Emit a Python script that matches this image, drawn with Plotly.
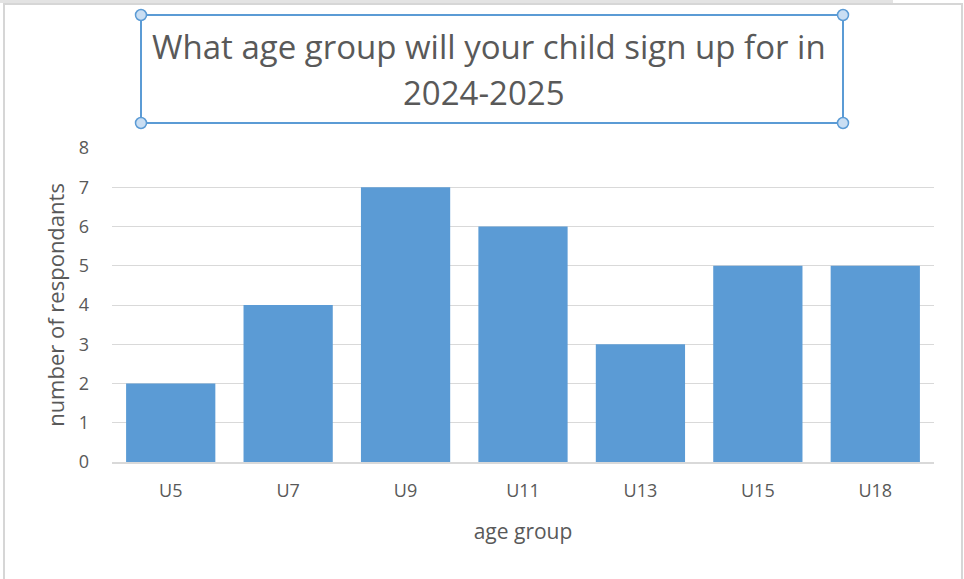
import plotly.graph_objects as go

categories = ["U5", "U7", "U9", "U11", "U13", "U15", "U18"]
respondents = [2, 4, 7, 6, 3, 5, 5]
title_lines = ["What age group will your child sign up for in", "2024-2025"]

W, H = 964, 579
L, R, T, B = 112, 934, 148, 462

def px(x):
    return (x - L) / (R - L)

def py(y):
    return (B - y) / (B - T)

GRAY = "#595959"
BLUE = "#5b9bd5"
FONT = "Open Sans"

fig = go.Figure(go.Bar(x=categories, y=respondents, marker=dict(color=BLUE, line=dict(width=0)),
                       width=0.76, hoverinfo="skip"))

shapes = []
# outer frame
shapes.append(dict(type="rect", xref="paper", yref="paper", x0=px(0), x1=px(893), y0=py(0), y1=py(3),
                   fillcolor="#e3e3e3", line=dict(width=0), layer="below"))
shapes.append(dict(type="rect", xref="paper", yref="paper", x0=px(4), x1=px(962), y0=py(4), y1=py(585),
                   fillcolor="rgba(0,0,0,0)", line=dict(color="#d6d6d6", width=2), layer="below"))
# title selection box
shapes.append(dict(type="rect", xref="paper", yref="paper", x0=px(141), x1=px(843), y0=py(15), y1=py(123),
                   line=dict(color=BLUE, width=2), fillcolor="rgba(0,0,0,0)"))
r = 5.5
for cx, cy in [(141, 15), (843, 15), (141, 123), (843, 123)]:
    shapes.append(dict(type="circle", xref="paper", yref="paper", x0=px(cx - r), x1=px(cx + r),
                       y0=py(cy - r), y1=py(cy + r), fillcolor="#c9def3", line=dict(color=BLUE, width=1.5)))

annotations = [
    dict(text=title_lines[0], xref="paper", yref="paper", x=px(489), y=py(47), showarrow=False,
         xanchor="center", yanchor="middle", font=dict(family=FONT, size=33, color=GRAY)),
    dict(text=title_lines[1], xref="paper", yref="paper", x=px(484), y=py(93), showarrow=False,
         xanchor="center", yanchor="middle", font=dict(family=FONT, size=33, color=GRAY)),
]

fig.update_layout(
    width=W, height=H,
    margin=dict(l=L, r=W - R, t=T, b=H - B, pad=0),
    paper_bgcolor="white", plot_bgcolor="white",
    showlegend=False,
    shapes=shapes, annotations=annotations,
    font=dict(family=FONT, color=GRAY),
    xaxis=dict(showgrid=False, showline=True, linecolor="#d9d9d9", linewidth=1.5,
               ticks="", tickfont=dict(size=18, color=GRAY), ticklabelstandoff=12,
               title=dict(text="age group", font=dict(size=21, color=GRAY), standoff=23),
               fixedrange=True),
    yaxis=dict(range=[0, 8], dtick=1, showgrid=True, gridcolor="#d9d9d9", gridwidth=1,
               zeroline=False, showline=False, ticks="", tickfont=dict(size=18, color=GRAY),
               ticklabelstandoff=22,
               title=dict(text="number of respondants", font=dict(size=22, color=GRAY), standoff=8),
               fixedrange=True),
)

fig.write_html("out.html", config={"displayModeBar": False},
               post_script="document.body.style.margin='0px';")
